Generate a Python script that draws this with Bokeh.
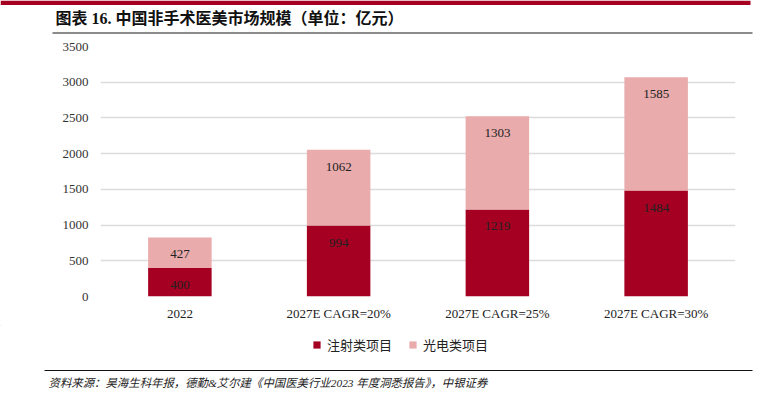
from bokeh.plotting import figure
from bokeh.layouts import column
from bokeh.models import (ColumnDataSource, FactorRange, Range1d, FixedTicker,
                          LabelSet, Legend, LegendItem)
from bokeh.core.properties import value
from bokeh.embed import file_html
from bokeh.resources import INLINE

# ---- data ----
categories = ["2022", "2027E CAGR=20%", "2027E CAGR=25%", "2027E CAGR=30%"]
injection = [400, 994, 1219, 1484]      # 注射类项目
photoelectric = [427, 1062, 1303, 1585] # 光电类项目
series_names = ["注射类项目", "光电类项目"]
y_ticks = [0, 500, 1000, 1500, 2000, 2500, 3000, 3500]
title_text = "图表 16. 中国非手术医美市场规模（单位：亿元）"
source_text = "资料来源：昊海生科年报，德勤&艾尔建《中国医美行业2023 年度洞悉报告》，中银证券"

DARK = "#A50021"
PINK = "#E9ABAB"
SERIF = "'Liberation Serif', 'Noto Sans CJK SC'"
CJK = "'Noto Sans CJK SC'"
W = 757

def blank(h):
    f = figure(width=W, height=h, x_range=Range1d(0, W), y_range=Range1d(h, 0),
               output_backend="svg", toolbar_location=None,
               x_axis_location=None, y_axis_location=None,
               min_border=0, min_border_left=0, min_border_right=0,
               min_border_top=0, min_border_bottom=0, frame_align=False)
    f.outline_line_color = None
    f.xgrid.visible = False
    f.ygrid.visible = False
    return f

# ---- header ----
head = blank(38)
head.quad(left=[0], right=[750], top=[0], bottom=[4.5], color=DARK, line_color=None)
head.segment(x0=[52], y0=[32.5], x1=[752], y1=[32.5], line_color="#8C8C8C", line_width=2)
head.text(x=[55], y=[18], text=[title_text], text_font=value(SERIF),
          text_font_size="16px", text_font_style="bold", text_baseline="middle",
          text_color="#111111")

# ---- main chart ----
src = ColumnDataSource(dict(
    cat=categories,
    inj=injection,
    pho=photoelectric,
    inj_top=injection,
    pho_top=[a + b for a, b in zip(injection, photoelectric)],
    inj_lbl=[str(v) for v in injection],
    pho_lbl=[str(v) for v in photoelectric],
))

p = figure(width=W, height=287, x_range=FactorRange(*categories, range_padding=0),
           y_range=Range1d(0, 3500), output_backend="svg", toolbar_location=None,
           min_border_left=100, min_border_right=22, min_border_top=8, min_border_bottom=29,
           frame_align=False)
p.outline_line_color = None

rs = p.vbar_stack(["inj", "pho"], x="cat", width=0.4, source=src,
                  color=[DARK, PINK], line_color=None)

for col_top, col_lbl in (("inj_top", "inj_lbl"), ("pho_top", "pho_lbl")):
    p.add_layout(LabelSet(x="cat", y=col_top, text=col_lbl, source=src, y_offset=-17,
                          text_align="center", text_baseline="middle", text_font=SERIF,
                          text_font_size="13px", text_color="#222222"))

p.yaxis.ticker = FixedTicker(ticks=y_ticks)
p.yaxis.axis_line_color = None
p.yaxis.major_tick_line_color = None
p.yaxis.minor_tick_line_color = None
p.yaxis.major_tick_out = 0
p.yaxis.major_tick_in = 0
p.yaxis.major_label_standoff = 12
p.yaxis.major_label_text_font = SERIF
p.yaxis.major_label_text_font_size = "13px"
p.yaxis.major_label_text_color = "#333333"

p.xaxis.axis_line_color = None
p.xaxis.major_tick_line_color = None
p.xaxis.minor_tick_line_color = None
p.xaxis.major_tick_out = 0
p.xaxis.major_tick_in = 0
p.xaxis.major_label_standoff = 9
p.xaxis.major_label_text_font = SERIF
p.xaxis.major_label_text_font_size = "13px"
p.xaxis.major_label_text_color = "#222222"

p.xgrid.grid_line_color = None
p.ygrid.grid_line_color = "#DCDCDC"
p.ygrid.grid_line_width = 1.5

# ---- footer: legend, rule, source ----
foot = blank(74)
# legend proxies, placed off the visible canvas
d1 = foot.vbar(x=[-500], top=[-500], bottom=[-510], width=1, color=DARK, line_color=None)
d2 = foot.vbar(x=[-500], top=[-500], bottom=[-510], width=1, color=PINK, line_color=None)
legend = Legend(items=[LegendItem(label=series_names[0], renderers=[d1]),
                       LegendItem(label=series_names[1], renderers=[d2])],
                orientation="horizontal", location=(312, 45),
                glyph_width=9, glyph_height=9, label_standoff=6, spacing=16,
                padding=0, margin=0, border_line_color=None,
                background_fill_alpha=0,
                label_text_font=CJK, label_text_font_size="13px",
                label_text_color="#222222", label_height=14)
foot.add_layout(legend)
foot.segment(x0=[44], y0=[45], x1=[752], y1=[45], line_color="#111111", line_width=1)
foot.text(x=[48], y=[57], text=[source_text], text_font=value(SERIF),
          text_font_size="11.4px", text_font_style="italic", text_baseline="middle",
          text_color="#222222")

layout = column(head, p, foot, spacing=0)
open("out.html", "w").write(file_html(layout, INLINE))
